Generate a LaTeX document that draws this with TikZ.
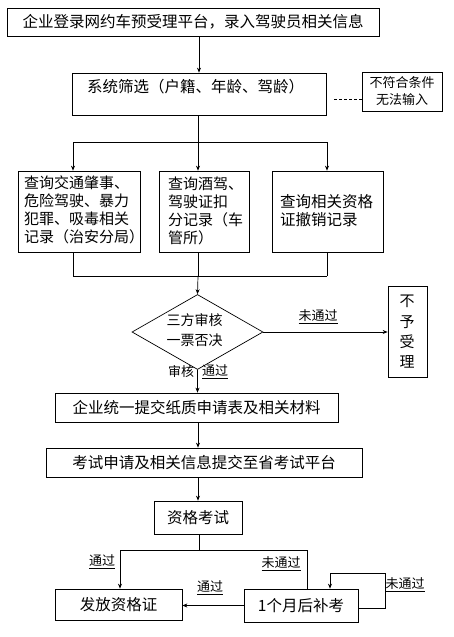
\documentclass[tikz,border=0pt]{standalone}
\usepackage{fontspec}
\setmainfont{Noto Sans CJK SC}
\usetikzlibrary{arrows.meta,shapes.geometric}
\begin{document}
\begin{tikzpicture}[x=1pt,y=-1pt,
  box/.style={draw, line width=0.7pt, inner sep=0pt},
  big/.style={font=\fontsize{15.5pt}{18pt}\selectfont},
  txt/.style={inner sep=0pt, align=left, font=\fontsize{15pt}{18pt}\selectfont},
  lbl/.style={inner sep=0pt, font=\fontsize{13pt}{15pt}\selectfont},
  conn/.style={line width=0.7pt},
  arr/.style={line width=0.7pt, -{Stealth[length=5pt,width=4pt]}}]
\useasboundingbox (0,0) rectangle (454,637);
% boxes
\node[box, big, minimum width=372pt, minimum height=28pt] (top) at (193,22) {企业登录网约车预受理平台，录入驾驶员相关信息};
\node[box, minimum width=254pt, minimum height=42pt] (sys) at (199,94) {};
\node[big, inner sep=0pt] (systxt) at (195.5,87) {系统筛选（户籍、年龄、驾龄）};
\node[box, align=center, minimum width=80pt, minimum height=39pt, font=\fontsize{13pt}{17pt}\selectfont] (nofit) at (402,91.5) {不符合条件\\无法输入};
\node[box, minimum width=122pt, minimum height=81pt] (A) at (79,211.5) {};
\node[box, minimum width=90pt, minimum height=81pt] (B) at (204,211.5) {};
\node[box, minimum width=111pt, minimum height=81pt] (C) at (327.5,211.5) {};
\node[txt, anchor=north west] (Atxt) at (24,176) {查询交通肇事、\\危险驾驶、暴力\\犯罪、吸毒相关\\记录（治安分局）};
\node[txt, anchor=north west] (Btxt) at (168,177) {查询酒驾、\\驾驶证扣\\分记录（车\\管所）};
\node[txt, anchor=north west, font=\fontsize{15.5pt}{18pt}\selectfont] (Ctxt) at (280,194) {查询相关资格\\证撤销记录};
\node[draw, diamond, line width=0.7pt, aspect=1.75, inner sep=0pt, minimum width=131pt, minimum height=75pt] (dec) at (197.5,332) {};
\node[align=center, inner sep=0pt, font=\fontsize{14pt}{20pt}\selectfont] (dectxt) at (194.5,330) {三方审核\\一票否决};
\node[box, minimum width=39pt, minimum height=91pt] (noacc) at (407.5,331.5) {};
\node[align=center, inner sep=0pt, font=\fontsize{15pt}{20.3pt}\selectfont] (noacctxt) at (407,332) {不\\予\\受\\理};
\node[box, big, minimum width=283pt, minimum height=29pt] (firm) at (196.5,407.5) {企业统一提交纸质申请表及相关材料};
\node[box, big, minimum width=316pt, minimum height=29pt] (exam) at (204,462.5) {考试申请及相关信息提交至省考试平台};
\node[box, big, minimum width=88pt, minimum height=33pt] (test) at (198,517.5) {资格考试};
\node[box, big, minimum width=127pt, minimum height=31pt] (cert) at (118.5,604.5) {发放资格证};
\node[box, big, minimum width=114pt, minimum height=33pt] (retry) at (301,605.5) {1个月后补考};
% connectors
\draw[arr] (sys.north |- top.south) -- (sys.north);
\coordinate (s1) at (73,142);
\coordinate (s2) at (198,142);
\coordinate (s3) at (327,142);
\draw[conn] (s2 |- sys.south) -- (s2);
\draw[conn] (s1) -- (s3);
\draw[arr] (s1) -- (s1 |- A.north);
\draw[arr] (s2) -- (s2 |- B.north);
\draw[arr] (s3) -- (s3 |- C.north);
\coordinate (d1) at (334,99);
\draw[conn, dashed, dash pattern=on 3pt off 2pt] (d1) -- (d1 -| nofit.west);
\coordinate (m1) at (73,276);
\coordinate (m2) at (198,276);
\coordinate (m3) at (327,276);
\draw[conn] (m1 |- A.south) -- (m1);
\draw[conn] (m2 |- B.south) -- (m2);
\draw[conn] (m3 |- C.south) -- (m3);
\draw[conn] (m1) -- (m3);
\draw[arr] (m2) -- (dec.north);
\draw[arr] (dec.east) -- (dec.east -| noacc.west);
\node[lbl] (l1) at (318,317) {\underline{未通过}};
\draw[arr] (dec.south) -- (dec.south |- firm.north);
\node[lbl] (l2) at (181,372) {审核};
\node[lbl] (l3) at (215,372) {\underline{通过}};
\draw[arr] (firm.south -| test.north) -- (test.north |- exam.north);
\draw[arr] (test.north |- exam.south) -- (test.north);
\coordinate (j) at (199,550);
\coordinate (jl) at (120,550);
\coordinate (jr) at (307,550);
\draw[conn] (j |- test.south) -- (j);
\draw[conn] (jl) -- (jr);
\draw[arr] (jl) -- (jl |- cert.north);
\draw[conn] (jr) -- (jr |- retry.north);
\node[lbl] (l4) at (102,562) {\underline{通过}};
\node[lbl] (l5) at (281,564) {\underline{未通过}};
\draw[arr] (retry.west) -- (retry.west -| cert.east);
\node[lbl] (l6) at (210,588) {\underline{通过}};
\coordinate (r1) at (385,608);
\coordinate (r2) at (385,573);
\coordinate (r3) at (330,573);
\draw[arr] (r1 -| retry.east) -- (r1) -- (r2) -- (r3) -- (r3 |- retry.north);
\node[lbl] (l7) at (405,585) {\underline{未通过}};
\end{tikzpicture}
\end{document}
